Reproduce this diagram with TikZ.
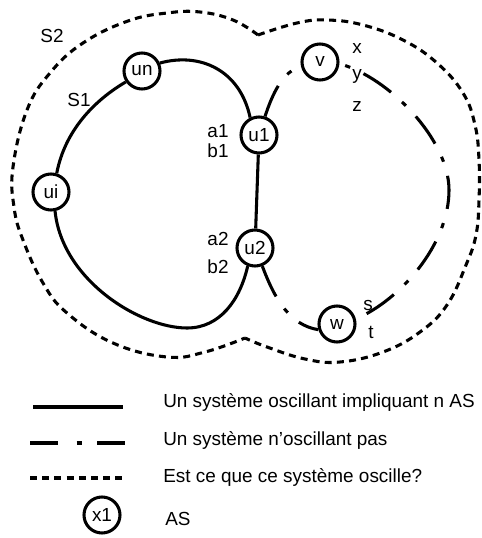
\documentclass[tikz,border=0pt]{standalone}
\usepackage{fontspec}
\setmainfont{Liberation Sans}
\begin{document}
\begin{tikzpicture}[x=0.75pt,y=-0.75pt,
  font=\fontsize{14.2}{16}\selectfont,
  as/.style={circle,draw,line width=2.3pt,minimum size=27pt,inner sep=0pt,fill=white},
  osc/.style={line width=2.3pt},
  nonosc/.style={line width=2.3pt,dash pattern=on 25pt off 11pt on 4pt off 11pt},
  quest/.style={line width=2.3pt,dash pattern=on 5.25pt off 3.9pt},
  lbl/.style={anchor=base,inner sep=0pt},
  legtext/.style={anchor=base west,inner sep=0pt}]
\useasboundingbox (0,0) rectangle (481,538);

% outline S2
\draw[quest] plot[smooth,tension=0.7] coordinates {(258,35) (233,20) (200,12) (167,13) (128,21) (83,43) (50,73) (27,110) (13,167) (14,207) (23,240) (43,283) (67,313) (113,343) (167,357) (205,352) (245,338)};
\draw[quest] plot[smooth,tension=0.7] coordinates {(258,35) (297,23) (327,20) (363,25) (403,40) (437,63) (463,93) (475,125) (479,160) (479,200) (476,235) (466,265) (447,305) (420,332) (383,352) (340,362) (305,359) (267,347) (245,338)};

% nodes
\node[as] (un) at (142,71) {un};
\node[as] (ui) at (51,192) {ui};
\node[as] (u1) at (259,135) {u1};
\node[as] (u2) at (255,248) {u2};
\node[as] (v) at (320,62) {v};
\node[as] (w) at (337,324) {w};

% oscillating system S1
\draw[osc] (un.24) .. controls (200,52) and (240,70) .. (u1.117);
\draw[osc] (ui.73) .. controls (65,130) and (95,100) .. (un.214);
\draw[osc] (ui.-78) .. controls (62,280) and (140,328) .. (187,328) .. controls (220,328) and (240,300) .. (u2.-112);
\draw[osc] (u1) -- (u2);

% non oscillating system
\draw[nonosc] (u1.72) .. controls (272,95) and (283,70) .. (v.195);
\draw[nonosc,dash phase=31.5pt] (v.-5) .. controls (390,78) and (449,140) .. (449,190) .. controls (449,245) and (400,300) .. (w.15);
\draw[nonosc] (u2.-68) .. controls (275,300) and (290,325) .. (w.197);

% labels
\node[lbl] (lS2) at (52,43) {S2};
\node[lbl] (lS1) at (79,107) {S1};
\node[lbl] (la1) at (218,138) {a1};
\node[lbl] (lb1) at (218,158) {b1};
\node[lbl] (la2) at (218,245) {a2};
\node[lbl] (lb2) at (218,273) {b2};
\node[lbl] (lx) at (357,54) {x};
\node[lbl] (ly) at (357,80) {y};
\node[lbl] (lz) at (357,112) {z};
\node[lbl] (ls) at (368,310) {s};
\node[lbl] (lt) at (371,338) {t};

% legend
\coordinate (l1a) at (33,407); \coordinate (l1b) at (123,407);
\coordinate (l2a) at (30,443); \coordinate (l2b) at (125,443);
\coordinate (l3a) at (30,478); \coordinate (l3b) at (125,478);
\draw[osc] (l1a) -- (l1b);
\draw[nonosc,dash pattern=on 21pt off 14pt on 3.75pt off 11.5pt] (l2a) -- (l2b);
\draw[quest] (l3a) -- (l3b);
\node[as] (x1) at (102,515) {x1};
\node[legtext] (t1) at (163,407) {Un système oscillant impliquant n AS};
\node[legtext] (t2) at (163,445) {Un système n’oscillant pas};
\node[legtext] (t3) at (163,482) {Est ce que ce système oscille?};
\node[legtext] (t4) at (165,525) {AS};
\end{tikzpicture}
\end{document}
